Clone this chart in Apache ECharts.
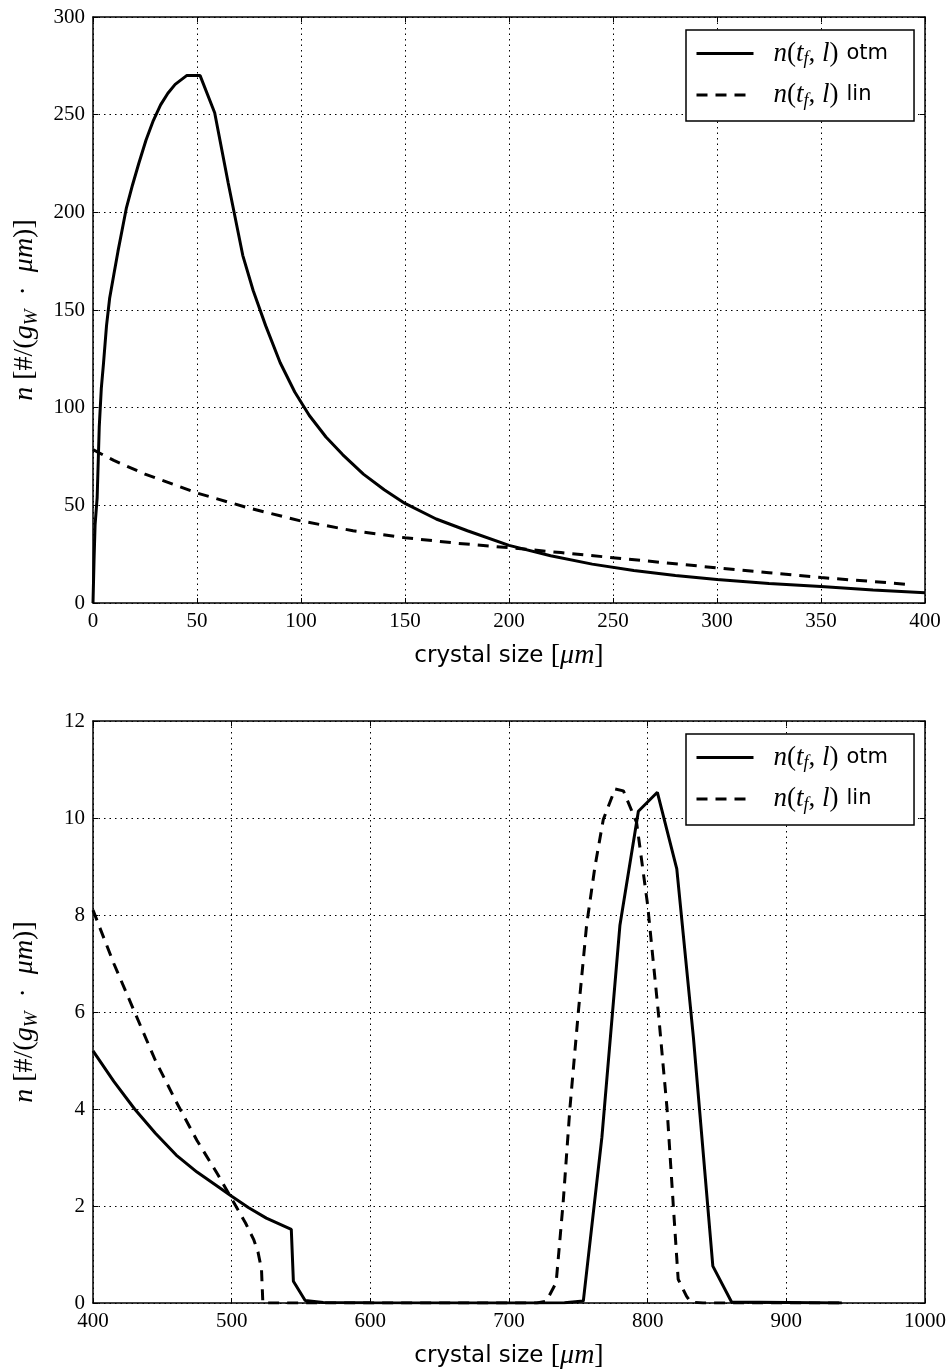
<!DOCTYPE html>
<html>
<head>
<meta charset="utf-8">
<script src="https://cdn.jsdelivr.net/npm/echarts@6/dist/echarts.min.js"></script>
<style>
html,body{margin:0;padding:0;background:#fff;}
#chart{width:951px;height:1371px;}
</style>
</head>
<body>
<div id="chart"></div>
<script>
// ---- data ----
const topOtmX = [0, 0.5, 1, 2, 3, 4, 5, 6.5, 8, 10, 12, 14, 16, 19, 22, 25.5, 29, 32.5, 36, 39.5, 45, 51.5, 58.5, 65, 72, 77, 83, 90, 97, 104, 112, 120, 130, 140, 150, 165, 180, 200, 220, 240, 260, 280, 300, 325, 350, 375, 400];
const topOtmY = [0, 22, 40, 54, 90, 110, 122, 142, 156, 168, 180, 191, 202, 214, 225, 237, 247, 255, 261, 265.5, 270, 270, 251, 215, 178, 160, 142, 123, 108, 96, 85, 76, 66, 58, 51, 43, 37, 29.5, 24.2, 19.9, 16.6, 14.1, 12, 10, 8.4, 6.7, 5.3];

const topLinX = [0, 10, 25, 50, 75, 100, 125, 150, 175, 200, 225, 250, 275, 300, 325, 350, 375, 391];
const topLinY = [78.5, 73, 66, 56.3, 48.6, 42, 37, 33.4, 30.6, 28.3, 25.8, 23.2, 20.6, 18, 15.5, 13, 11, 9.6];

const botOtmX = [400, 415, 430, 445, 460, 475, 490, 500, 512, 525, 543, 544.5, 553, 566, 600, 700, 740, 753.6, 767, 780, 793.3, 807, 821, 833, 847, 860.5, 940];
const botOtmY = [5.2, 4.57, 4.0, 3.5, 3.05, 2.7, 2.4, 2.2, 1.97, 1.75, 1.52, 0.45, 0.05, 0.01, 0.005, 0, 0.005, 0.04, 3.42, 7.79, 10.14, 10.53, 8.95, 5.47, 0.76, 0.02, 0];

const botLinX = [400, 415, 430, 445, 460, 475, 490, 500, 510, 516, 519, 521.5, 522.5, 600, 700, 720, 727, 734, 739, 744, 750, 756, 762, 768, 776.5, 782.5, 792, 800, 808, 814, 818.5, 822, 828, 831, 840, 940];
const botLinY = [8.1, 7.0, 6.0, 5.0, 4.15, 3.35, 2.65, 2.15, 1.65, 1.3, 1.05, 0.7, 0, 0, 0, 0, 0.04, 0.42, 2.05, 4.04, 6.0, 7.8, 9.0, 9.97, 10.6, 10.56, 9.91, 8.2, 5.9, 4.0, 2.0, 0.49, 0.14, 0.02, 0, 0];

const topXTicks = {min: 0, max: 400, interval: 50};
const topYTicks = {min: 0, max: 300, interval: 50};
const botXTicks = {min: 400, max: 1000, interval: 100};
const botYTicks = {min: 0, max: 12, interval: 2};

const seriesNames = ['otm', 'lin'];
const xName = '{t|crystal size }{m|[}{i|μm}{m|]}';
const yName = '{i|n}{m| [#/(}{i|g}{s|W}{m|  ·  }{i|μm}{m|)]}';

// ---- styling ----
const NUM_FONT = 'Liberation Serif';
function makeRich(mathSize, subSize, sansSize, lh) {
  return {
    i: {fontFamily: NUM_FONT, fontStyle: 'italic', fontSize: mathSize, lineHeight: lh, color: '#000', verticalAlign: 'middle'},
    m: {fontFamily: NUM_FONT, fontSize: mathSize, lineHeight: lh, color: '#000', verticalAlign: 'middle'},
    s: {fontFamily: NUM_FONT, fontStyle: 'italic', fontSize: subSize, lineHeight: Math.round(lh * 0.45), color: '#000', verticalAlign: 'bottom'},
    t: {fontFamily: 'DejaVu Sans', fontSize: sansSize, lineHeight: lh, color: '#000', verticalAlign: 'middle'},
    sp: {width: 15, fontSize: 10},
    gp: {width: 8, fontSize: 10}
  };
}
const legendRich = makeRich(27, 18, 21, 30);
const axisRich = makeRich(28, 19, 23, 32);

function zip(xs, ys) { return xs.map((x, k) => [x, ys[k]]); }

const grids = [
  {left: 93, top: 17, width: 832, height: 586},
  {left: 93, top: 721, width: 832, height: 586}
];

const tickLabel = {show: true, margin: 8, fontFamily: NUM_FONT, fontSize: 21, color: '#000',
  showMinLabel: true, showMaxLabel: true, formatter: v => String(v)};

function mainX(gi, t) {
  return {
    type: 'value', gridIndex: gi, position: 'bottom', min: t.min, max: t.max, interval: t.interval,
    name: xName, nameLocation: 'middle', nameGap: 37, nameTextStyle: {rich: axisRich},
    axisLine: {show: true, onZero: false, lineStyle: {color: '#000', width: 1.5}},
    axisTick: {show: true, inside: true, length: 5, lineStyle: {color: '#000', width: 1}},
    axisLabel: tickLabel,
    splitLine: {show: true, lineStyle: {color: '#000', width: 1, type: [1.5, 4]}}
  };
}
function frameX(gi, t) {
  return {
    type: 'value', gridIndex: gi, position: 'top', min: t.min, max: t.max, interval: t.interval,
    axisLine: {show: true, onZero: false, lineStyle: {color: '#000', width: 1.5}},
    axisTick: {show: true, inside: true, length: 5, lineStyle: {color: '#000', width: 1}},
    axisLabel: {show: false}, splitLine: {show: false}
  };
}
function mainY(gi, t) {
  return {
    type: 'value', gridIndex: gi, position: 'left', min: t.min, max: t.max, interval: t.interval,
    name: yName, nameLocation: 'middle', nameRotate: 90, nameGap: 52, nameTextStyle: {rich: axisRich},
    axisLine: {show: true, onZero: false, lineStyle: {color: '#000', width: 1.5}},
    axisTick: {show: true, inside: true, length: 5, lineStyle: {color: '#000', width: 1}},
    axisLabel: tickLabel,
    splitLine: {show: true, lineStyle: {color: '#000', width: 1, type: [1.5, 4]}}
  };
}
function frameY(gi, t) {
  return {
    type: 'value', gridIndex: gi, position: 'right', min: t.min, max: t.max, interval: t.interval,
    axisLine: {show: true, onZero: false, lineStyle: {color: '#000', width: 1.5}},
    axisTick: {show: true, inside: true, length: 5, lineStyle: {color: '#000', width: 1}},
    axisLabel: {show: false}, splitLine: {show: false}
  };
}

function legendText(name) {
  return '{sp| }{i|n}{m|(}{i|t}{s|f}{m|, }{i|l}{m|)}{gp| }{t|' + name + '}';
}
function makeLegend(top) {
  return {
    left: 686, top: top, orient: 'vertical',
    data: seriesNames,
    itemWidth: 57, itemHeight: 14, itemGap: 13,
    padding: [10, 26, 11, 9],
    borderColor: '#000', borderWidth: 1.5, backgroundColor: '#fff',
    formatter: legendText,
    textStyle: {rich: legendRich},
    itemStyle: {opacity: 0},
    lineStyle: {width: 3, color: '#000', type: 'inherit'},
    selectedMode: false
  };
}

const solidStyle = {color: '#000', width: 3, type: 'solid'};
const dashStyle = {color: '#000', width: 3, type: [11, 8]};

function line(name, xi, yi, xs, ys, style) {
  return {
    type: 'line', name: name, xAxisIndex: xi, yAxisIndex: yi,
    data: zip(xs, ys), showSymbol: false, symbol: 'none',
    lineStyle: style, itemStyle: {color: '#000'}, clip: true, z: 3
  };
}

const option = {
  animation: false,
  backgroundColor: '#fff',
  grid: grids,
  xAxis: [mainX(0, topXTicks), frameX(0, topXTicks), mainX(1, botXTicks), frameX(1, botXTicks)],
  yAxis: [mainY(0, topYTicks), frameY(0, topYTicks), mainY(1, botYTicks), frameY(1, botYTicks)],
  legend: [makeLegend(30), makeLegend(734)],
  series: [
    line('otm', 0, 0, topOtmX, topOtmY, solidStyle),
    line('lin', 0, 0, topLinX, topLinY, dashStyle),
    line('otm', 2, 2, botOtmX, botOtmY, solidStyle),
    line('lin', 2, 2, botLinX, botLinY, dashStyle)
  ]
};

const chart = echarts.init(document.getElementById('chart'), null, {renderer: 'canvas'});
chart.setOption(option);
</script>
</body>
</html>
